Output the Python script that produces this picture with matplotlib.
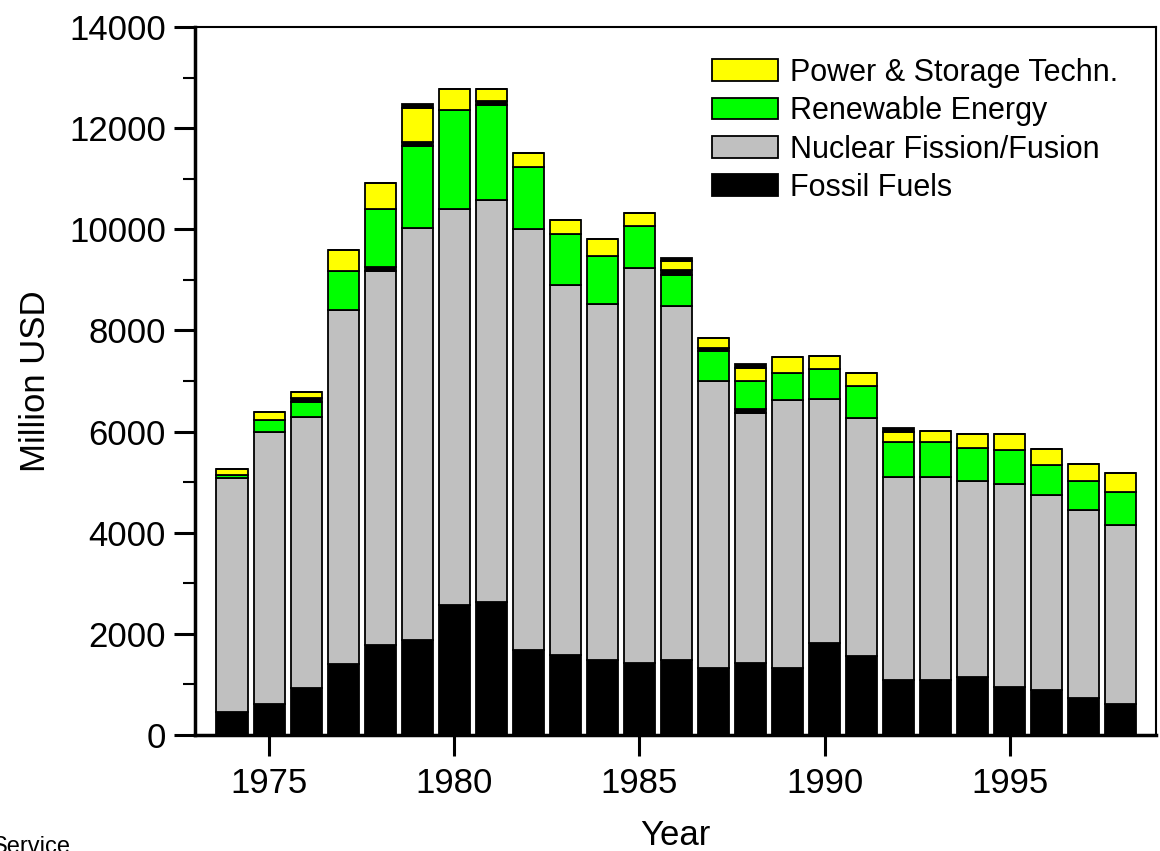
import matplotlib.pyplot as plt
from matplotlib.ticker import MultipleLocator
import numpy as np

plt.rcParams['font.family'] = ['Liberation Sans', 'DejaVu Sans']

years = list(range(1974, 1999))
fossil = [460, 620, 930, 1410, 1780, 1880, 2570, 2630, 1680, 1590, 1480, 1430, 1480,
          1320, 1430, 1320, 1810, 1560, 1090, 1090, 1140, 940, 890, 730, 620]
nuclear = [4620, 5380, 5350, 6990, 7400, 8150, 7830, 7940, 8330, 7310, 7050, 7800, 7000,
           5680, 4930, 5310, 4830, 4710, 4020, 4020, 3880, 4030, 3860, 3710, 3540]
renewable = [60, 220, 300, 775, 1150, 1620, 1950, 1890, 1230, 1000, 935, 830, 620,
             585, 550, 530, 590, 630, 680, 680, 660, 670, 580, 580, 645]
power = [110, 170, 130, 410, 510, 660, 430, 230, 270, 290, 340, 270, 180,
         190, 250, 310, 270, 265, 210, 230, 280, 315, 320, 330, 375]
# thin black slivers in the original that have no legend entry
other_low = [0, 0, 0, 0, 80, 0, 0, 0, 0, 0, 0, 0, 0,
             0, 90, 0, 0, 0, 0, 0, 0, 0, 0, 0, 0]
other_mid = [0, 0, 80, 0, 0, 85, 0, 80, 0, 0, 0, 0, 90,
             70, 0, 0, 0, 0, 0, 0, 0, 0, 0, 0, 0]
other_top = [0, 0, 0, 0, 0, 80, 0, 0, 0, 0, 0, 0, 60,
             0, 80, 0, 0, 0, 80, 0, 0, 0, 0, 0, 0]

labels = ['Power & Storage Techn.', 'Renewable Energy',
          'Nuclear Fission/Fusion', 'Fossil Fuels']

fig = plt.figure(figsize=(11.6, 8.51), dpi=100)
ax = fig.add_axes([0.1681, 0.1363, 0.8285, 0.832])

layers = [(fossil, 'black', 'Fossil Fuels'),
          (nuclear, '#c0c0c0', 'Nuclear Fission/Fusion'),
          (other_low, 'black', None),
          (renewable, '#00ff00', 'Renewable Energy'),
          (other_mid, 'black', None),
          (power, '#ffff00', 'Power & Storage Techn.'),
          (other_top, 'black', None)]

bottom = np.zeros(len(years))
handles = {}
for vals, col, name in layers:
    vals = np.array(vals, dtype=float)
    bars = ax.bar(years, vals, bottom=bottom, width=0.84, color=col,
                  edgecolor='black', linewidth=1.3)
    if name:
        handles[name] = bars
    bottom += vals

ax.set_xlim(1973.0, 1998.95)
ax.set_ylim(0, 14000)
ax.xaxis.set_major_locator(MultipleLocator(5))
ax.xaxis.set_minor_locator(MultipleLocator(1))
ax.yaxis.set_major_locator(MultipleLocator(2000))
ax.yaxis.set_minor_locator(MultipleLocator(1000))
ax.tick_params(which='major', direction='out', length=15, width=2.2, labelsize=25, pad=6)
ax.tick_params(which='minor', direction='out', length=9, width=1.5)
ax.tick_params(axis='x', which='minor', length=0)
ax.tick_params(axis='x', which='major', pad=8)

ax.spines['left'].set_linewidth(2.5)
ax.spines['bottom'].set_linewidth(2.5)
ax.spines['top'].set_linewidth(1.5)
ax.spines['right'].set_linewidth(1.5)

ax.set_ylabel('Million USD', fontsize=25, labelpad=12)
ax.set_xlabel('Year', fontsize=25, labelpad=14)

leg = fig.legend([handles[l] for l in labels], labels, loc='upper left',
                 bbox_to_anchor=(712 / 1160, 1 - 58 / 851), frameon=False,
                 fontsize=22, handlelength=2.15, handleheight=0.72,
                 handletextpad=0.4, labelspacing=0.27, borderpad=0, borderaxespad=0)

# source note, clipped by the bottom edge as in the original
fig.text(-8 / 1160, -2 / 851, 'Service', fontsize=17, ha='left', va='baseline')

plt.savefig('out.png', dpi=100)
